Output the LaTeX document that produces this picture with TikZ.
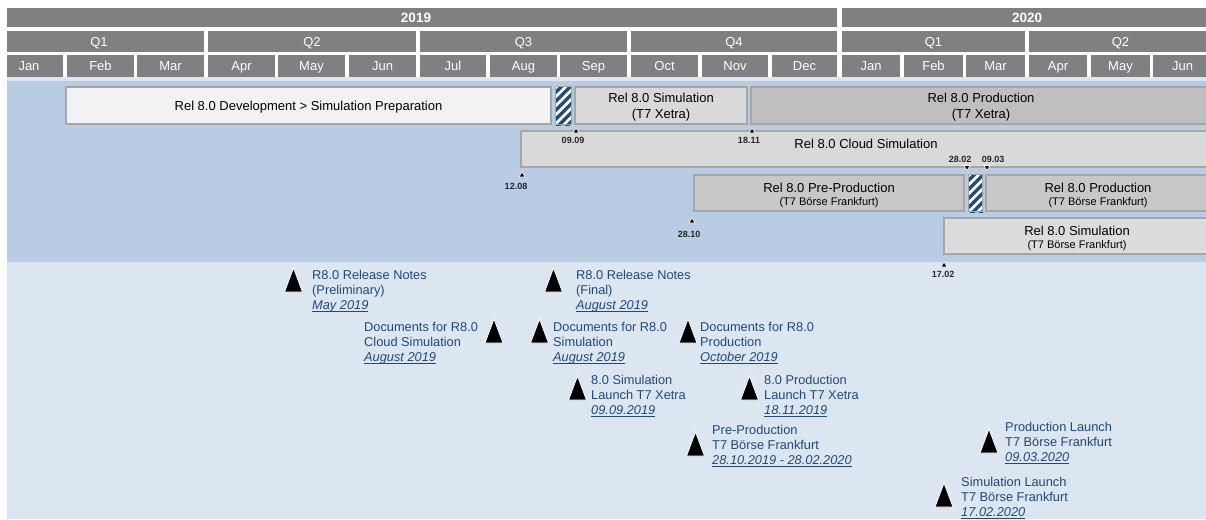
\documentclass[tikz,border=0pt]{standalone}
\usepackage{fontspec}
\setmainfont{Liberation Sans}
\definecolor{hdr}{RGB}{128,128,128}
\definecolor{bluebg}{RGB}{184,204,228}
\definecolor{lightbg}{RGB}{220,230,241}
\definecolor{barline}{RGB}{166,166,166}
\definecolor{navy}{RGB}{31,78,121}
\definecolor{mstext}{RGB}{31,73,125}
\definecolor{cdev}{RGB}{242,242,242}
\definecolor{csim}{RGB}{217,217,217}
\definecolor{cprod}{RGB}{191,191,191}
\definecolor{cpre}{RGB}{200,200,200}
\definecolor{csimb}{RGB}{220,220,220}
\newcommand\msul[1]{\setbox0\hbox{#1}\rlap{\rule[-2.2pt]{\wd0}{0.9pt}}\box0}
\newcommand\mstone[8]{%
  \draw[mtri] (#2-9,#3+24) -- (#2,#3) -- (#2+9,#3+24) -- cycle;
  \node[mtext] (#1a) at (#4,#5) {#6};
  \node[mtext] (#1b) at (#4,#5+15) {#7};
  \node[mtext] (#1c) at (#4,#5+30) {\msul{\itshape #8}};
}
\newcommand\dup[6]{% name, x, apex y, label x, label y, text
  \draw[dtri] (#2-3,#3+5) -- (#2,#3) -- (#2+3,#3+5) -- cycle;
  \node[dtext] (#1) at (#4,#5) {#6};
}
\newcommand\ddown[6]{%
  \draw[dtri] (#2-3,#3) -- (#2,#3+5) -- (#2+3,#3) -- cycle;
  \node[dtext] (#1) at (#4,#5) {#6};
}
\newcommand\hatchbox[4]{%
  \begin{scope}
    \clip (#1,#2) rectangle (#3,#4);
    \fill[white] (#1,#2) rectangle (#3,#4);
    \foreach \k in {0,...,9} {\draw[navy, line width=3.3pt] (#1-2,#2+\k*9) -- ++(45,-45);}
  \end{scope}
  \draw[barline, line width=1pt] (#1+0.5,#2+0.5) rectangle (#3-0.5,#4-0.5);
}
\begin{document}
\begin{tikzpicture}[x=1pt,y=-1pt,
  hdrtext/.style={text=white, inner sep=0, text height=9.3pt, text depth=0pt, font=\fontsize{13}{15}\selectfont},
  yeartext/.style={hdrtext, font=\fontsize{13.5}{15}\selectfont\bfseries},
  bar/.style={draw=barline, line width=2pt},
  btext/.style={inner sep=0, text height=9.3pt, text depth=0pt, font=\fontsize{13}{15}\selectfont},
  bsub/.style={inner sep=0, text height=7.8pt, text depth=0pt, font=\fontsize{11}{12}\selectfont},
  mtri/.style={fill=black, draw=white, line width=0.8pt, line join=miter},
  mtext/.style={anchor=west, inner sep=0, text height=9.3pt, text depth=0pt, text=mstext, font=\fontsize{12.8}{15}\selectfont},
  dtri/.style={fill=black, draw=white, line width=0.6pt},
  dtext/.style={inner sep=0, text height=6.5pt, text depth=0pt, text=black!85, font=\fontsize{9}{10}\selectfont\bfseries}]
\useasboundingbox (0,0) rectangle (1206,519);
\clip (0,0) rectangle (1206,519);
\fill[white] (0,0) rectangle (1206,519);
% header
\foreach \a/\b/\c/\t in {7/837/416/2019, 842/1212/1027/2020}
  {\fill[hdr] (\a,8) rectangle (\b,27); \node[yeartext] at (\c,17.5) {\t};}
\foreach \a/\b/\c/\t in {7/204/99/Q1, 208/416/312/Q2, 420/627/523.5/Q3, 631/837/734/Q4, 842/1025/933.5/Q1, 1029/1212/1120.5/Q2}
  {\fill[hdr] (\a,31) rectangle (\b,52); \node[hdrtext] at (\c,41.5) {\t};}
\foreach \a/\b/\c/\t in {7/63/29/Jan, 67/134/100.5/Feb, 137/204/170.5/Mar, 208/275/241.5/Apr, 278/345/311.5/May, 349/416/382.5/Jun, 420/486/453/Jul, 490/557/523.5/Aug, 560/627/593.5/Sep, 631/698/664.5/Oct, 702/768/735/Nov, 772/837/804.5/Dec, 842/900/871/Jan, 904/963/933.5/Feb, 966/1025/995.5/Mar, 1029/1087/1058/Apr, 1091/1150/1120.5/May, 1153/1212/1182.5/Jun}
  {\fill[hdr] (\a,55) rectangle (\b,77); \node[hdrtext] at (\c,66) {\t};}
% backgrounds
\fill[lightbg] (7,77) rectangle (1206,80.5);
\fill[bluebg] (7,80.5) rectangle (1206,262);
\fill[lightbg] (7,262) rectangle (1206,519);
% bars
\draw[bar, fill=cdev] (66,87) rectangle (551,124);
\node[btext] (dev) at (308.5,106) {Rel 8.0 Development > Simulation Preparation};
\hatchbox{555}{86}{572}{125}
\draw[bar, fill=csim] (575,87) rectangle (747,124);
\node[btext] (simx1) at (661,98) {Rel 8.0 Simulation};
\node[btext] (simx2) at (661,114) {(T7 Xetra)};
\draw[bar, fill=cprod] (751,87) rectangle (1215,124);
\node[btext] (prodx1) at (981,98) {Rel 8.0 Production};
\node[btext] (prodx2) at (981,114) {(T7 Xetra)};
\draw[bar, fill=csim] (521,131) rectangle (1215,167);
\node[btext] (cloud) at (866,144) {Rel 8.0 Cloud Simulation};
\draw[bar, fill=cpre] (694,175) rectangle (964,211);
\node[btext] (pre1) at (829,188) {Rel 8.0 Pre-Production};
\node[bsub] (pre2) at (829,202) {(T7 Börse Frankfurt)};
\hatchbox{968}{174}{983}{212}
\draw[bar, fill=cpre] (986,175) rectangle (1215,211);
\node[btext] (prodb1) at (1098,188) {Rel 8.0 Production};
\node[bsub] (prodb2) at (1098,202) {(T7 Börse Frankfurt)};
\draw[bar, fill=csimb] (944,218) rectangle (1215,254);
\node[btext] (simb1) at (1077,231) {Rel 8.0 Simulation};
\node[bsub] (simb2) at (1077,245) {(T7 Börse Frankfurt)};
% date markers
\dup{d1}{576}{128}{573}{140.5}{09.09}
\dup{d2}{752}{128}{749}{140.5}{18.11}
\dup{d3}{522}{172}{516}{186.5}{12.08}
\dup{d4}{692}{218}{689}{234}{28.10}
\dup{d5}{944}{262}{943}{274}{17.02}
\ddown{d6}{967}{165.5}{960}{159.5}{28.02}
\ddown{d7}{987}{165.5}{993}{159.5}{09.03}
% milestones
\mstone{m1}{293.5}{268}{312}{275}{R8.0 Release Notes}{(Preliminary)}{May 2019}
\mstone{m2}{553.5}{268}{576}{275}{R8.0 Release Notes}{(Final)}{August 2019}
\mstone{m3}{494}{319}{364}{327}{Documents for R8.0}{Cloud Simulation}{August 2019}
\mstone{m4}{539.5}{319}{553}{327}{Documents for R8.0}{Simulation}{August 2019}
\mstone{m5}{688}{319}{700}{327}{Documents for R8.0}{Production}{October 2019}
\mstone{m6}{577.5}{376}{591}{380}{8.0 Simulation}{Launch T7 Xetra}{09.09.2019}
\mstone{m7}{749.5}{376}{764}{380}{8.0 Production}{Launch T7 Xetra}{18.11.2019}
\mstone{m8}{695.5}{432}{712}{430}{Pre-Production}{T7 Börse Frankfurt}{28.10.2019 - 28.02.2020}
\mstone{m9}{989}{429}{1005}{427}{Production Launch}{T7 Börse Frankfurt}{09.03.2020}
\mstone{m10}{944}{483}{961}{482}{Simulation Launch}{T7 Börse Frankfurt}{17.02.2020}
\end{tikzpicture}
\end{document}
